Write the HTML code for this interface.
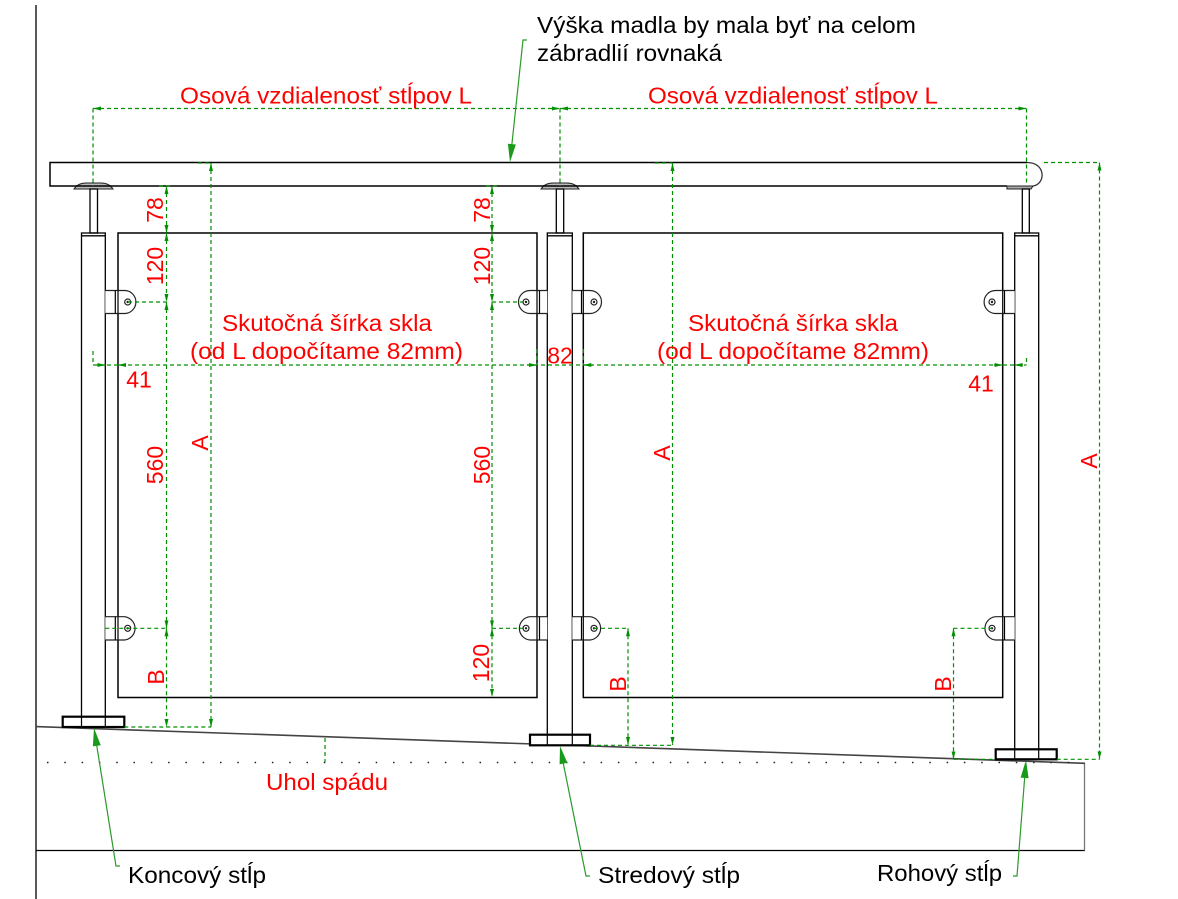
<!DOCTYPE html>
<html>
<head>
<meta charset="utf-8">
<style>
html,body{margin:0;padding:0;background:#fff;}
svg{display:block;}
text{font-family:"Liberation Sans",Arial,sans-serif;}
</style>
</head>
<body>
<svg width="1178" height="899" viewBox="0 0 1178 899" xmlns="http://www.w3.org/2000/svg">
<defs>
<marker id="ar" viewBox="0 0 8 4" refX="8" refY="2" markerWidth="8" markerHeight="4" markerUnits="userSpaceOnUse" orient="auto-start-reverse">
<path d="M0,0 L8,2 L0,4 z" fill="#009000"/>
</marker>
</defs>

<!-- frame lines -->
<line x1="36" y1="5" x2="36" y2="899" stroke="#000" stroke-width="1.3"/>
<line x1="36" y1="850.5" x2="1085" y2="850.5" stroke="#000" stroke-width="1.3"/>
<line x1="1084.5" y1="763" x2="1084.5" y2="850.5" stroke="#777" stroke-width="1.3"/>
<!-- slope ground -->
<line x1="36" y1="726.6" x2="1085" y2="763.3" stroke="#444" stroke-width="1.6"/>
<!-- dotted level line -->
<line x1="47" y1="762.5" x2="1084" y2="762.5" stroke="#222" stroke-width="1.5" stroke-dasharray="1.5 15.8"/>

<!-- handrail -->
<path d="M1027,162.5 H50 V186 H1007" fill="none" stroke="#000" stroke-width="1.5"/>
<path d="M1027,162.5 C1046,162.5 1046,184 1033,186" fill="none" stroke="#333" stroke-width="1.3"/>
<polygon points="1007,186 1033,186 1031,189 1007,189" fill="#aaa" stroke="#222" stroke-width="1"/>
<!-- saddles -->
<path d="M74,189 Q78,183 86,183 H101 Q109,183 113,189 Z" fill="#bbb" stroke="#222" stroke-width="1"/>
<path d="M541,189 Q545,183 553,183 H567 Q575,183 579,189 Z" fill="#bbb" stroke="#222" stroke-width="1"/>
<line x1="76" y1="186" x2="111" y2="186" stroke="#000" stroke-width="1.5"/>
<line x1="543" y1="186" x2="577" y2="186" stroke="#000" stroke-width="1.5"/>

<!-- spindles -->
<g fill="none" stroke="#000" stroke-width="1.3">
<rect x="90" y="189" width="7.5" height="44"/>
<rect x="556.3" y="189" width="7.4" height="44"/>
<rect x="1022.3" y="189" width="7" height="44"/>
<!-- tubes -->
<rect x="81.5" y="233" width="23.8" height="494"/>
<line x1="81.5" y1="235.8" x2="105.3" y2="235.8"/>
<rect x="547.3" y="233" width="25" height="512"/>
<line x1="547.3" y1="235.8" x2="572.3" y2="235.8"/>
<rect x="1014.7" y="233" width="24" height="526"/>
<line x1="1014.7" y1="235.8" x2="1038.7" y2="235.8"/>
<!-- glass -->
<rect x="118" y="233" width="419" height="464.5" stroke-width="1.5"/>
<rect x="583.3" y="233" width="419.4" height="464.5" stroke-width="1.5"/>
</g>

<!-- bases -->
<g fill="#fff" stroke="#000" stroke-width="2.2">
<rect x="62.7" y="716.7" width="61.6" height="10.3"/>
<rect x="530" y="734.7" width="60" height="10.6"/>
<rect x="995.7" y="749.3" width="61" height="10"/>
</g>
<g stroke="#000" stroke-width="1.2">
<line x1="81.5" y1="716.7" x2="81.5" y2="727"/><line x1="105.3" y1="716.7" x2="105.3" y2="727"/>
<line x1="547.3" y1="734.7" x2="547.3" y2="745.3"/><line x1="572.3" y1="734.7" x2="572.3" y2="745.3"/>
<line x1="1014.7" y1="749.3" x2="1014.7" y2="759.3"/><line x1="1038.7" y1="749.3" x2="1038.7" y2="759.3"/>
</g>

<!-- clamps -->
<g fill="#fff" stroke="#222" stroke-width="1.2">
<path d="M105.3,290.5 H124.4 A11.5 11.5 0 0 1 124.4,313.5 H105.3"/>
<path d="M105.3,616.7 H124.4 A11.7 11.7 0 0 1 124.4,640 H105.3"/>
<path d="M547.3,290.5 H530 A11.5 11.5 0 0 0 530,313.5 H547.3"/>
<path d="M547.3,616.7 H530 A11.7 11.7 0 0 0 530,640 H547.3"/>
<path d="M572.3,290.5 H590 A11.5 11.5 0 0 1 590,313.5 H572.3"/>
<path d="M572.3,616.7 H590 A11.7 11.7 0 0 1 590,640 H572.3"/>
<path d="M1014.7,290.5 H995.6 A11.5 11.5 0 0 0 995.6,313.5 H1014.7"/>
<path d="M1014.7,616.7 H995.6 A11.7 11.7 0 0 0 995.6,640 H1014.7"/>
</g>
<g stroke="#000" stroke-width="1.2">
<line x1="115.3" y1="290.5" x2="115.3" y2="313.5"/><line x1="118" y1="290.5" x2="118" y2="313.5"/>
<line x1="115.3" y1="616.7" x2="115.3" y2="640"/><line x1="118" y1="616.7" x2="118" y2="640"/>
<line x1="539.5" y1="290.5" x2="539.5" y2="313.5"/><line x1="537" y1="290.5" x2="537" y2="313.5"/>
<line x1="539.5" y1="616.7" x2="539.5" y2="640"/><line x1="537" y1="616.7" x2="537" y2="640"/>
<line x1="581.5" y1="290.5" x2="581.5" y2="313.5"/><line x1="583.3" y1="290.5" x2="583.3" y2="313.5"/>
<line x1="581.5" y1="616.7" x2="581.5" y2="640"/><line x1="583.3" y1="616.7" x2="583.3" y2="640"/>
<line x1="1004.5" y1="290.5" x2="1004.5" y2="313.5"/><line x1="1002.7" y1="290.5" x2="1002.7" y2="313.5"/>
<line x1="1004.5" y1="616.7" x2="1004.5" y2="640"/><line x1="1002.7" y1="616.7" x2="1002.7" y2="640"/>
</g>
<g fill="none" stroke="#222" stroke-width="1.2">
<circle cx="127.7" cy="302" r="3"/><circle cx="127.7" cy="628.3" r="3"/>
<circle cx="526" cy="302" r="3"/><circle cx="526" cy="628.3" r="3"/>
<circle cx="594" cy="302" r="3"/><circle cx="594" cy="628.3" r="3"/>
<circle cx="992" cy="302" r="3"/><circle cx="992" cy="628.3" r="3"/>
</g>
<g fill="#222">
<circle cx="127.7" cy="302" r="1.2"/><circle cx="127.7" cy="628.3" r="1.2"/>
<circle cx="526" cy="302" r="1.2"/><circle cx="526" cy="628.3" r="1.2"/>
<circle cx="594" cy="302" r="1.2"/><circle cx="594" cy="628.3" r="1.2"/>
<circle cx="992" cy="302" r="1.2"/><circle cx="992" cy="628.3" r="1.2"/>
</g>

<!-- green dimension lines -->
<g fill="none" stroke="#009000" stroke-width="1.2" stroke-dasharray="4 3">
<!-- top L dims -->
<line x1="93" y1="108.5" x2="560" y2="108.5" marker-start="url(#ar)" marker-end="url(#ar)"/>
<line x1="560" y1="108.5" x2="1026.5" y2="108.5" marker-start="url(#ar)" marker-end="url(#ar)"/>
<line x1="93" y1="108.5" x2="93" y2="186"/>
<line x1="560" y1="108.5" x2="560" y2="186"/>
<line x1="1026.5" y1="108.5" x2="1026.5" y2="184"/>
<!-- left A -->
<line x1="211" y1="163" x2="211" y2="727" marker-start="url(#ar)" marker-end="url(#ar)"/>
<line x1="198" y1="163" x2="211" y2="163"/>
<line x1="124.3" y1="727" x2="211" y2="727"/>
<!-- left stack -->
<line x1="166.5" y1="186" x2="166.5" y2="233" marker-start="url(#ar)" marker-end="url(#ar)"/>
<line x1="166.5" y1="233" x2="166.5" y2="302" marker-start="url(#ar)" marker-end="url(#ar)"/>
<line x1="166.5" y1="302" x2="166.5" y2="628.3" marker-start="url(#ar)" marker-end="url(#ar)"/>
<line x1="166.5" y1="628.3" x2="166.5" y2="727" marker-start="url(#ar)" marker-end="url(#ar)"/>
<line x1="159" y1="186" x2="172" y2="186"/>
<line x1="128" y1="302" x2="166.5" y2="302"/>
<line x1="105.3" y1="628.3" x2="166.5" y2="628.3"/>
<!-- middle stack -->
<line x1="492" y1="186" x2="492" y2="233" marker-start="url(#ar)" marker-end="url(#ar)"/>
<line x1="492" y1="233" x2="492" y2="302" marker-start="url(#ar)" marker-end="url(#ar)"/>
<line x1="492" y1="302" x2="492" y2="628.3" marker-start="url(#ar)" marker-end="url(#ar)"/>
<line x1="492" y1="628.3" x2="492" y2="697" marker-start="url(#ar)" marker-end="url(#ar)"/>
<line x1="486" y1="186" x2="499" y2="186"/>
<line x1="492" y1="302" x2="526" y2="302"/>
<line x1="492" y1="628.3" x2="526" y2="628.3"/>
<!-- middle A -->
<line x1="672.5" y1="163" x2="672.5" y2="745" marker-start="url(#ar)" marker-end="url(#ar)"/>
<line x1="655" y1="163" x2="672.5" y2="163"/>
<line x1="590" y1="745.3" x2="672.5" y2="745.3"/>
<!-- middle B -->
<line x1="628" y1="628.3" x2="628" y2="745" marker-start="url(#ar)" marker-end="url(#ar)"/>
<line x1="594" y1="628.3" x2="628" y2="628.3"/>
<!-- right B -->
<line x1="953.5" y1="628.3" x2="953.5" y2="759.3" marker-start="url(#ar)" marker-end="url(#ar)"/>
<line x1="953.5" y1="628.3" x2="992" y2="628.3"/>
<line x1="953.5" y1="759.3" x2="995.7" y2="759.3"/>
<!-- right A -->
<line x1="1099.5" y1="162.5" x2="1099.5" y2="759.3" marker-start="url(#ar)" marker-end="url(#ar)"/>
<line x1="1044" y1="162.5" x2="1099.5" y2="162.5"/>
<line x1="1056.7" y1="759.3" x2="1099.5" y2="759.3"/>
<!-- width dim -->
<line x1="93" y1="365" x2="1026.5" y2="365"/>
<line x1="93" y1="351" x2="93" y2="365"/>
<line x1="1026.5" y1="358" x2="1026.5" y2="365"/>
<line x1="537" y1="349" x2="537" y2="365"/>
<line x1="583.3" y1="349" x2="583.3" y2="365"/>
<!-- slope -->
<line x1="325" y1="738" x2="325" y2="762"/>
</g>
<g fill="none" stroke="#009000" stroke-width="1.2">
<line x1="97" y1="365" x2="105.3" y2="365" marker-end="url(#ar)"/>
<line x1="126" y1="365" x2="118" y2="365" marker-end="url(#ar)"/>
<line x1="527" y1="365" x2="537" y2="365" marker-end="url(#ar)"/>
<line x1="593" y1="365" x2="583.3" y2="365" marker-end="url(#ar)"/>
<line x1="994" y1="365" x2="1002.7" y2="365" marker-end="url(#ar)"/>
<line x1="1023" y1="365" x2="1014.7" y2="365" marker-end="url(#ar)"/>
</g>

<!-- leaders -->
<g stroke="#2a9a2a" stroke-width="1.2" fill="none">
<polyline points="527,40 523,40 511.5,148"/>
<polyline points="120,866 116,866 96.5,744"/>
<polyline points="590,876 586,876 563,762"/>
<polyline points="1013,876 1017,876 1024.8,776"/>
</g>
<g fill="#1a9a1a">
<polygon points="510,162 515.9,144.5 507.9,143.7"/>
<polygon points="94,728 92.85,746.4 100.75,745.2"/>
<polygon points="560,746 559.6,764.4 567.4,762.8"/>
<polygon points="1026,760 1020.6,777.6 1028.6,778.2"/>
</g>

<!-- red labels -->
<g fill="#ff0000" font-size="23">
<text x="180" y="103.5" textLength="292" lengthAdjust="spacingAndGlyphs">Osová vzdialenosť stĺpov L</text>
<text x="648" y="103.5" textLength="290" lengthAdjust="spacingAndGlyphs">Osová vzdialenosť stĺpov L</text>
<text x="222" y="331" textLength="210" lengthAdjust="spacingAndGlyphs">Skutočná šírka skla</text>
<text x="688" y="331" textLength="210" lengthAdjust="spacingAndGlyphs">Skutočná šírka skla</text>
<text x="190" y="359" textLength="273" lengthAdjust="spacingAndGlyphs">(od L dopočítame 82mm)</text>
<text x="657" y="359" textLength="272" lengthAdjust="spacingAndGlyphs">(od L dopočítame 82mm)</text>
<text x="266" y="790" textLength="122" lengthAdjust="spacingAndGlyphs">Uhol spádu</text>
<text x="139" y="387.5" text-anchor="middle">41</text>
<text x="560" y="363.5" text-anchor="middle">82</text>
<text x="981" y="391.5" text-anchor="middle">41</text>
</g>
<g fill="#ff0000" font-size="23" text-anchor="middle">
<text transform="translate(155,210) rotate(-90)" y="8">78</text>
<text transform="translate(155,266) rotate(-90)" y="8">120</text>
<text transform="translate(155,465) rotate(-90)" y="8">560</text>
<text transform="translate(156,677) rotate(-90)" y="8">B</text>
<text transform="translate(200,443) rotate(-90)" y="8">A</text>
<text transform="translate(482,210) rotate(-90)" y="8">78</text>
<text transform="translate(482,266) rotate(-90)" y="8">120</text>
<text transform="translate(482,465) rotate(-90)" y="8">560</text>
<text transform="translate(481,663) rotate(-90)" y="8">120</text>
<text transform="translate(662,453) rotate(-90)" y="8">A</text>
<text transform="translate(618,684) rotate(-90)" y="8">B</text>
<text transform="translate(943,684) rotate(-90)" y="8">B</text>
<text transform="translate(1089,461) rotate(-90)" y="8">A</text>
</g>

<!-- black labels -->
<g fill="#000" font-size="23">
<text x="537" y="33" textLength="379" lengthAdjust="spacingAndGlyphs">Výška madla by mala byť na celom</text>
<text x="537" y="61" textLength="185" lengthAdjust="spacingAndGlyphs">zábradlií rovnaká</text>
<text x="128" y="883" textLength="138" lengthAdjust="spacingAndGlyphs">Koncový stĺp</text>
<text x="598" y="883" textLength="142" lengthAdjust="spacingAndGlyphs">Stredový stĺp</text>
<text x="877" y="881" textLength="125" lengthAdjust="spacingAndGlyphs">Rohový stĺp</text>
</g>
</svg>
</body>
</html>
